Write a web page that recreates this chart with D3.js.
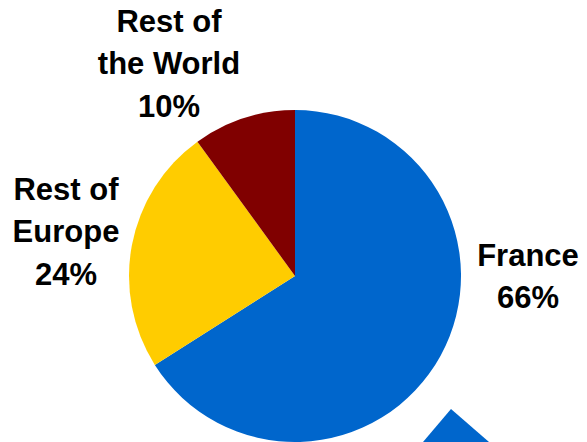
<!DOCTYPE html>
<html>
<head>
<meta charset="utf-8">
<script src="https://cdn.jsdelivr.net/npm/d3@7"></script>
<style>
  body { margin: 0; background: #ffffff; }
  svg text { font-family: "Liberation Sans", Arial, sans-serif; font-weight: bold; fill: #000000; }
</style>
</head>
<body>
<div id="chart"></div>
<script>
// Sales split by region
let regions = ["France", "Rest of Europe", "Rest of the World"];
let shares = [66, 24, 10];
let colors = ["#0066cc", "#ffcc00", "#800000"];
let label_lines = [["France", "66%"], ["Rest of", "Europe", "24%"], ["Rest of", "the World", "10%"]];

let width = 587;
let height = 442;

let radius = 166;
let cx = 295;
let cy = 276;

let svg = d3.select("#chart")
            .append("svg")
             .attr("width", width)
             .attr("height", height);

// pie starts at 12 o'clock and runs clockwise, no sorting
let pie = d3.pie()
            .sort(null)
            .value(function(d) { return d; });

let arc = d3.arc()
            .innerRadius(0)
            .outerRadius(radius);

let g = svg.append("g")
           .attr("transform", "translate(" + cx + "," + cy + ")");

g.selectAll("path")
 .data(pie(shares))
 .enter().append("path")
 .attr("d", arc)
 .attr("fill", function(d, i) { return colors[i]; });

// label anchor positions relative to pie centre (label block centre)
let label_pos = [[233, 0], [-229, -45], [-126, -213]];
let line_height = 42.5;
let font_size = 31;

let labels = svg.append("g");

label_lines.forEach(function(lines, i) {
  let x = cx + label_pos[i][0];
  let y0 = cy + label_pos[i][1] - (lines.length - 1) * line_height / 2;
  let t = labels.append("text")
                .attr("text-anchor", "middle")
                .attr("font-size", font_size);
  lines.forEach(function(line, j) {
    t.append("tspan")
     .attr("x", x)
     .attr("y", y0 + j * line_height + font_size * 0.36)
     .text(line);
  });
});

// blue pointer shape cut by bottom edge
svg.append("path")
   .attr("d", "M451,409 L489,442 L423,442 Z")
   .attr("fill", colors[0]);
</script>
</body>
</html>
